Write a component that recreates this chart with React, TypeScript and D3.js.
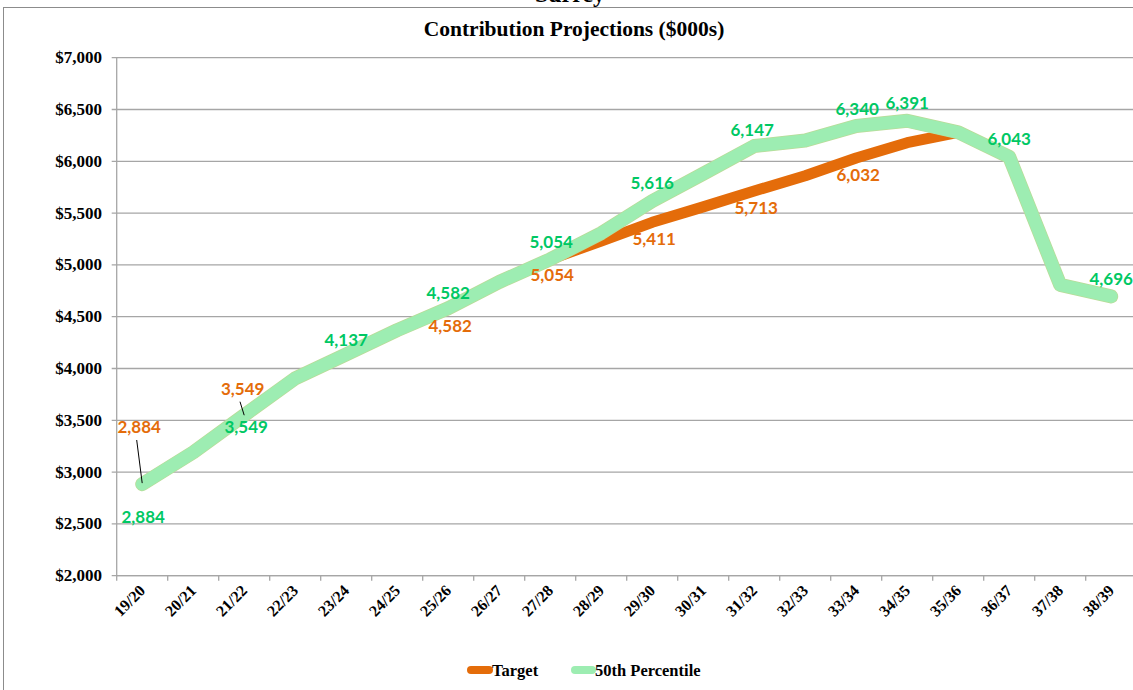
import React from "react";
import * as d3 from "d3";

const categories = ["19/20","20/21","21/22","22/23","23/24","24/25","25/26","26/27","27/28","28/29","29/30","30/31","31/32","32/33","33/34","34/35","35/36","36/37","37/38","38/39"];
const target: (number | null)[] = [2884,3190,3549,3905,4137,4370,4582,4835,5054,5230,5411,5560,5713,5860,6032,6180,6280,null,null,null];
const p50: number[] = [2884,3190,3549,3905,4137,4370,4582,4835,5054,5306,5616,5880,6147,6200,6340,6391,6280,6043,4807,4696];
const yTicks = [2000,2500,3000,3500,4000,4500,5000,5500,6000,6500,7000];

// label placement: [index, dx, dy(baseline offset)]
const greenLabels: [number, number, number][] = [[0,1,39],[2,2,18],[4,0,-8],[6,0,-9],[8,1,-11.5],[10,0,-12],[12,-2,-10],[14,1,-11],[15,0,-11.5],[17,0,-12],[19,0,-11.5]];
const orangeLabels: [number, number, number][] = [[0,-3,-51],[2,-1.5,-20],[6,2,24],[8,2,22],[10,2,23],[12,2,23],[14,2,23]];

const ORANGE = "#E46C0A";
const GREEN = "#9DEDB2";
const GREEN_TXT = "#00C864";

export default function App() {
  const W = 1133, H = 690;
  const left = 116.7, right = 1136.7, top = 57.7, bottom = 575.7;
  const x = d3.scaleBand<string>().domain(categories).range([left, right]).paddingInner(0).paddingOuter(0);
  const cx = (i: number) => (x(categories[i]) as number) + x.bandwidth() / 2;
  const y = d3.scaleLinear().domain([2000, 7000]).range([bottom, top]);
  const fmt = d3.format(",");

  const line = d3.line<number | null>()
    .defined((d) => d != null)
    .x((_, i) => cx(i))
    .y((d) => y(d as number));

  const serif = "'Liberation Serif', 'Times New Roman', serif";
  const sans = "Lato, 'Open Sans', sans-serif";

  return (
    <svg width={W} height={H} style={{ position: "absolute", left: 0, top: 0, background: "#fff" }}>
      <rect x={3.5} y={7.5} width={1200} height={800} fill="none" stroke="#8c8c8c" strokeWidth={1} />
      <text x={570} y={1.5} textAnchor="middle" fontFamily={serif} fontWeight="bold" fontSize={24}>Surrey</text>
      <text x={574} y={36} textAnchor="middle" fontFamily={serif} fontWeight="bold" fontSize={21.5}>Contribution Projections ($000s)</text>

      {yTicks.map((t) => (
        <g key={t}>
          <line x1={left - 5} x2={W} y1={y(t)} y2={y(t)} stroke="#a6a6a6" strokeWidth={1.3} />
          <text x={102} y={y(t) + 5.5} textAnchor="end" fontFamily={serif} fontWeight="bold" fontSize={17}>{"$" + fmt(t)}</text>
        </g>
      ))}
      <line x1={left} x2={left} y1={top} y2={bottom} stroke="#a6a6a6" strokeWidth={1.3} />
      <line x1={left} x2={W} y1={bottom} y2={bottom} stroke="#a6a6a6" strokeWidth={1.3} />
      {categories.map((c, i) => (
        <g key={c}>
          <line x1={x(c) as number} x2={x(c) as number} y1={bottom} y2={bottom + 5} stroke="#a6a6a6" strokeWidth={1.3} />
          <text transform={`translate(${cx(i) + 4},${bottom + 16}) rotate(-45)`} textAnchor="end" fontFamily={serif} fontWeight="bold" fontSize={16}>{c}</text>
        </g>
      ))}

      <path d={line(target) || ""} fill="none" stroke={ORANGE} strokeWidth={11} strokeLinejoin="round" strokeLinecap="round" />
      <path d={line(p50) || ""} fill="none" stroke="#b9dc98" strokeWidth={14} strokeLinejoin="round" strokeLinecap="round" />
      <path d={line(p50) || ""} fill="none" stroke={GREEN} strokeWidth={12.5} strokeLinejoin="round" strokeLinecap="round" />

      {/* leader lines */}
      <line x1={136.7} y1={440} x2={cx(0)} y2={y(target[0] as number) - 1} stroke="#000" strokeWidth={1} />
      <line x1={240} y1={401.7} x2={cx(2)} y2={y(target[2] as number)} stroke="#000" strokeWidth={1} />

      {orangeLabels.map(([i, dx, dy]) => (
        <text key={"o" + i} x={cx(i) + dx} y={y(target[i] as number) + dy} textAnchor="middle" fontFamily={sans} fontWeight="bold" fontSize={17} fill={ORANGE}>{fmt(target[i] as number)}</text>
      ))}
      {greenLabels.map(([i, dx, dy]) => (
        <text key={"g" + i} x={cx(i) + dx} y={y(p50[i]) + dy} textAnchor="middle" fontFamily={sans} fontWeight="bold" fontSize={17} fill={GREEN_TXT}>{fmt(p50[i])}</text>
      ))}

      {/* legend */}
      <line x1={471} x2={489} y1={670} y2={670} stroke={ORANGE} strokeWidth={8} strokeLinecap="round" />
      <text x={492} y={675.5} fontFamily={serif} fontWeight="bold" fontSize={16.5}>Target</text>
      <line x1={575} x2={592} y1={670} y2={670} stroke={GREEN} strokeWidth={8} strokeLinecap="round" />
      <text x={595} y={675.5} fontFamily={serif} fontWeight="bold" fontSize={16.5}>50th Percentile</text>
    </svg>
  );
}
